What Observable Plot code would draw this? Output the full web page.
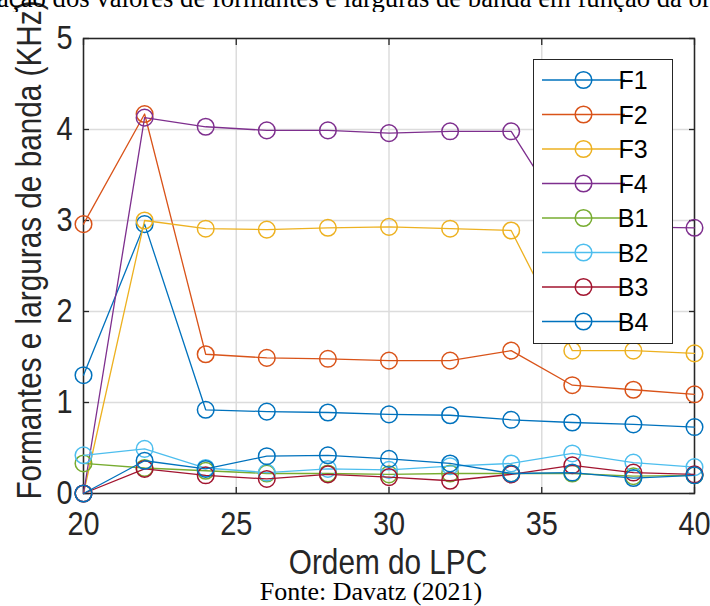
<!DOCTYPE html>
<html><head><meta charset="utf-8">
<script src="https://cdn.jsdelivr.net/npm/d3@7"></script>
<script src="https://cdn.jsdelivr.net/npm/@observablehq/plot@0.6"></script>
<style>
html,body{margin:0;padding:0;background:#fff;}
#wrap{width:710px;height:606px;overflow:hidden;position:relative;background:#fff;}
#title{position:relative;height:12px;overflow:hidden;}
#titleText{position:absolute;top:-15px;left:0;white-space:nowrap;font-family:"Liberation Serif","Times New Roman",serif;font-size:26.7px;line-height:1;color:#000;}
#chart{height:563px;}
#caption{position:relative;top:2px;height:29px;line-height:29px;font-family:"Liberation Serif","Times New Roman",serif;font-size:26px;text-align:center;padding-left:32px;box-sizing:border-box;white-space:nowrap;color:#000;}
</style></head>
<body>
<div id="wrap">
  <div id="title"><span id="titleText"><span id="titleHidden">Vari</span>ação dos valores de formantes e larguras de banda em função da ordem do LPC</span></div>
  <div id="chart"></div>
  <div id="caption">Fonte: Davatz (2021)</div>
</div>
<script>
// ---- data (kHz) ----
const lpcOrder = [20, 22, 24, 26, 28, 30, 32, 34, 36, 38, 40];
const F1 = [1.30, 2.96, 0.92, 0.90, 0.89, 0.87, 0.86, 0.81, 0.78, 0.76, 0.73];
const F2 = [2.96, 4.17, 1.53, 1.49, 1.48, 1.46, 1.46, 1.57, 1.19, 1.14, 1.09];
const F3 = [0.00, 3.00, 2.91, 2.90, 2.92, 2.93, 2.91, 2.89, 1.57, 1.57, 1.54];
const F4 = [0.00, 4.13, 4.03, 3.99, 3.99, 3.96, 3.98, 3.98, 2.92, 2.93, 2.92];
const B1 = [0.33, 0.28, 0.25, 0.22, 0.22, 0.21, 0.22, 0.22, 0.22, 0.19, 0.20];
const B2 = [0.42, 0.49, 0.28, 0.23, 0.27, 0.26, 0.30, 0.33, 0.44, 0.34, 0.29];
const B3 = [0.00, 0.27, 0.20, 0.16, 0.21, 0.18, 0.14, 0.21, 0.31, 0.23, 0.21];
const B4 = [0.00, 0.36, 0.27, 0.41, 0.42, 0.38, 0.33, 0.22, 0.23, 0.17, 0.20];
const seriesNames = ["F1", "F2", "F3", "F4", "B1", "B2", "B3", "B4"];
const seriesValues = [F1, F2, F3, F4, B1, B2, B3, B4];
const xTickValues = [20, 25, 30, 35, 40];
const yTickValues = [0, 1, 2, 3, 4, 5];
const xLabel = "Ordem do LPC";
const yLabel = "Formantes e larguras de banda (KHz)";

// ---- styles ----
const seriesColors = ["#0072BD", "#D95319", "#EDB120", "#7E2F8E", "#77AC30", "#4DBEEE", "#A2142F", "#0072BD"];
const axisColor = "#262626";
const gridColor = "#dcdcdc";
const sans = "'Liberation Sans', Arial, Helvetica, sans-serif";
const squeeze = 0.85;

// title position (cropped like the reference)
const hiddenW = document.getElementById("titleHidden").getBoundingClientRect().width;
document.getElementById("titleText").style.left = (-hiddenW - 3) + "px";

const tables = seriesValues.map((vals, s) => lpcOrder.map((x, i) => ({x, y: vals[i], series: seriesNames[s]})));

const dataMarks = [];
tables.forEach((t, s) => {
  dataMarks.push(Plot.line(t, {x: "x", y: "y", stroke: seriesColors[s], strokeWidth: 1.3}));
  dataMarks.push(Plot.dot(t, {x: "x", y: "y", r: 8.3, stroke: seriesColors[s], strokeWidth: 1.5, fill: "none"}));
});

const fmt = d => String(d);

const plot = Plot.plot({
  width: 710,
  height: 563,
  marginTop: 26,
  marginBottom: 82,
  marginLeft: 83,
  marginRight: 16,
  style: {fontFamily: sans, background: "#fff", color: axisColor, overflow: "visible"},
  x: {domain: [20, 40]},
  y: {domain: [0, 5]},
  marks: [
    Plot.gridX({ticks: xTickValues, stroke: gridColor, strokeOpacity: 1, strokeWidth: 1.5}),
    Plot.gridY({ticks: yTickValues, stroke: gridColor, strokeOpacity: 1, strokeWidth: 1.5}),
    Plot.frame({stroke: axisColor, strokeWidth: 1.5}),
    Plot.axisX({anchor: "bottom", ticks: xTickValues, tickFormat: fmt, tickSize: -6, tickPadding: 23, fontSize: 34, label: null, stroke: axisColor, strokeWidth: 1.3, fill: axisColor}),
    Plot.axisX({anchor: "top", ticks: xTickValues, tickSize: -6, tickFormat: () => "", label: null, stroke: axisColor, strokeWidth: 1.3}),
    Plot.axisY({anchor: "left", ticks: yTickValues, tickFormat: fmt, tickSize: -6, tickPadding: 17, fontSize: 34, label: null, stroke: axisColor, strokeWidth: 1.3, fill: axisColor}),
    Plot.axisY({anchor: "right", ticks: yTickValues, tickSize: -6, tickFormat: () => "", label: null, stroke: axisColor, strokeWidth: 1.3}),
    ...dataMarks
  ]
});
document.getElementById("chart").appendChild(plot);

const svg = d3.select(plot);
// narrow the axis glyphs like the reference
svg.selectAll('g[aria-label$="tick label"] text').each(function () {
  const t = this.getAttribute("transform");
  if (t) {
    this.setAttribute("transform", t + ` scale(${squeeze},1)`);
  } else {
    const x = +this.getAttribute("x") || 0, y = +this.getAttribute("y") || 0;
    this.removeAttribute("x"); this.removeAttribute("y");
    this.setAttribute("transform", `translate(${x},${y}) scale(${squeeze},1)`);
  }
});

// axis titles
svg.append("text")
  .attr("transform", `translate(388,562) scale(${squeeze},1)`)
  .attr("text-anchor", "middle")
  .attr("fill", axisColor)
  .style("font-family", sans).style("font-size", "35px")
  .text(xLabel);
svg.append("text")
  .attr("transform", `translate(41,238) rotate(-90) scale(${squeeze},1)`)
  .attr("text-anchor", "middle")
  .attr("fill", axisColor)
  .style("font-family", sans).style("font-size", "35px")
  .text(yLabel);

// legend
const lg = svg.append("g");
lg.append("rect").attr("x", 533.5).attr("y", 47.5).attr("width", 139).attr("height", 284)
  .attr("fill", "#fff").attr("stroke", axisColor).attr("stroke-width", 1);
seriesNames.forEach((name, i) => {
  const cy = 68 + i * 34.5;
  lg.append("line").attr("x1", 542).attr("x2", 625).attr("y1", cy).attr("y2", cy)
    .attr("stroke", seriesColors[i]).attr("stroke-width", 1.3);
  lg.append("circle").attr("cx", 583.5).attr("cy", cy).attr("r", 8.3)
    .attr("fill", "none").attr("stroke", seriesColors[i]).attr("stroke-width", 1.5);
  lg.append("text").attr("x", 633).attr("y", cy).attr("dy", "0.36em")
    .attr("fill", "#000").style("font-family", sans).style("font-size", "25px")
    .text(name);
});
</script>
</body></html>
